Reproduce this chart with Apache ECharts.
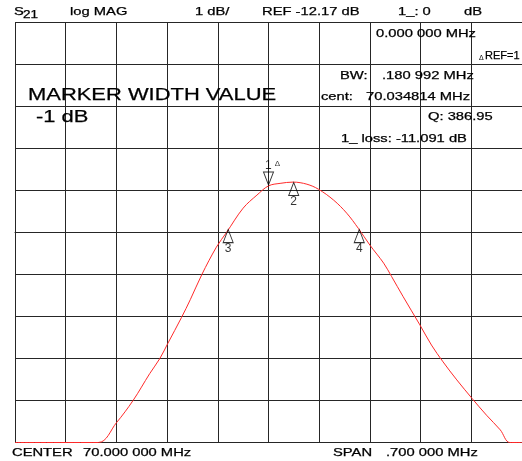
<!DOCTYPE html>
<html>
<head>
<meta charset="utf-8">
<title>S21 log MAG</title>
<script src="https://cdn.jsdelivr.net/npm/echarts@6/dist/echarts.min.js"></script>
<style>
  html, body {margin: 0; padding: 0; background: #fff;}
  #main {width: 522px; height: 461px;}
</style>
</head>
<body>
<div id="main"></div>
<script>
var refLevel = -12.17;   // REF dB, centre line
var spanKHz = 700;

// trace: offset from centre (70 MHz) in kHz, level in dB
var traceKHz = [-350, -235, -210, -187, -164, -150, -139, -120, -108, -92, -72, -58, -35, -16, 0, 16, 34, 53, 69, 90, 108, 124, 140, 159, 170, 186, 209, 225, 241, 260, 281, 301, 320, 333, 350];
var traceDb = [-17.17, -17.17, -16.70, -16.17, -15.53, -15.17, -14.81, -14.19, -13.77, -13.17, -12.52, -12.17, -11.59, -11.28, -11.06, -11.00, -10.97, -11.02, -11.14, -11.40, -11.71, -12.07, -12.47, -12.90, -13.22, -13.70, -14.37, -14.85, -15.25, -15.68, -16.12, -16.52, -16.87, -17.17, -17.17];

// markers
var markerNames = ['1', '2', '3', '4'];
var markerKHz = [0, 34.8, -55.7, 125.3];
var markerDb = [-11.04, -10.98, -12.10, -12.10];

// annotation texts: text, left x, centre y, font size, (horizontal stretch)
var labels = [
	['S', 14, 12, 11],
	['log MAG', 70, 12, 11],
	['1 dB/', 195, 12, 11],
	['REF -12.17 dB', 262, 12, 11],
	['1_: 0', 398, 12, 11],
	['dB', 464, 12, 11],
	['0.000 000 MHz', 376, 34, 11],
	['REF=1', 485, 56, 11, 1.0],
	['BW:', 340, 76, 11],
	['.180 992 MHz', 382, 76, 11],
	['cent:', 321, 97, 11],
	['70.034814 MHz', 366, 97, 11],
	['Q: 386.95', 428, 117, 11],
	['1_ loss: -11.091 dB', 341, 139, 11],
	['MARKER WIDTH VALUE', 28, 95, 17],
	['-1 dB', 36, 117, 17],
	['CENTER', 12, 453, 11],
	['70.000 000 MHz', 83, 453, 11],
	['SPAN', 333, 453, 11],
	['.700 000 MHz', 386, 453, 11]
];

var fontName = '"Liberation Sans", Arial, sans-serif';

function makeText(t) {
	var sx = t[4] || (t[3] > 14 ? 1.29 : 1.34);   // the analyser font is a wide one
	return {
		type: 'text',
		x: t[1],
		y: t[2],
		scaleX: sx,
		z: 100,
		style: {text: t[0], font: t[3] + 'px ' + fontName, fill: '#000', stroke: '#000', lineWidth: 0.25,
			align: 'left', verticalAlign: 'middle'}
	};
}

var graphics = labels.map(makeText);
// subscript of S21 and the small delta sign
graphics.push({type: 'text', x: 23, y: 15.5, scaleX: 1.35, z: 100,
	style: {text: '21', font: '10px ' + fontName, fill: '#000', stroke: '#000', lineWidth: 0.25,
		align: 'left', verticalAlign: 'middle'}});
graphics.push({type: 'text', x: 479, y: 58, z: 100,
	style: {text: 'Δ', font: '7px ' + fontName, fill: '#000', align: 'left', verticalAlign: 'middle'}});

var lineData = traceKHz.map(function(k, i) {
	return [k, traceDb[i] - refLevel];
});

var upTri = 'path://M5,0L10,13L0,13Z';
var downTri = 'path://M0,0L10,0L5,13Z';

var markerData = markerNames.map(function(n, i) {
	var first = i == 0;
	return {
		value: [markerKHz[i], markerDb[i] - refLevel],
		symbol: first ? downTri : upTri,
		symbolOffset: [0, first ? -6.5 : 6.5],
		label: {
			show: true,
			position: first ? 'top' : 'bottom',
			distance: 0,
			offset: first ? [4, 0] : [0, 0],
			formatter: first ? '{a|1}{b|Δ}' : n,
			fontSize: 12,
			fontFamily: fontName,
			color: '#000',
			rich: {
				a: {fontSize: 12, fontFamily: fontName, color: '#000'},
				b: {fontSize: 8, fontFamily: fontName, color: '#000', padding: [0, 0, 3, 3]}
			}
		}
	};
});

var gridColor = '#262626';

var option = {
	animation: false,
	backgroundColor: '#fff',
	grid: {left: 15, right: -1, top: 22.5, bottom: 18.5},
	xAxis: {
		type: 'value',
		min: -spanKHz / 2,
		max: spanKHz / 2,
		interval: spanKHz / 10,
		axisLine: {show: true, lineStyle: {color: gridColor, width: 1}},
		axisTick: {show: false},
		axisLabel: {show: false},
		splitLine: {show: true, lineStyle: {color: gridColor, width: 1}}
	},
	yAxis: {
		type: 'value',
		min: -5,
		max: 5,
		interval: 1,
		axisLine: {show: true, lineStyle: {color: gridColor, width: 1}},
		axisTick: {show: false},
		axisLabel: {show: false},
		splitLine: {show: true, lineStyle: {color: gridColor, width: 1}}
	},
	series: [
		{
			type: 'line',
			data: lineData,
			showSymbol: false,
			smooth: 0.35,
			lineStyle: {color: '#ff2a2a', width: 1},
			z: 5
		},
		{
			type: 'scatter',
			data: markerData,
			symbolSize: [10, 13],
			itemStyle: {color: 'rgba(0,0,0,0)', borderColor: '#000', borderWidth: 1},
			z: 6
		}
	],
	graphic: graphics
};

echarts.init(document.getElementById('main')).setOption(option);
</script>
</body>
</html>
